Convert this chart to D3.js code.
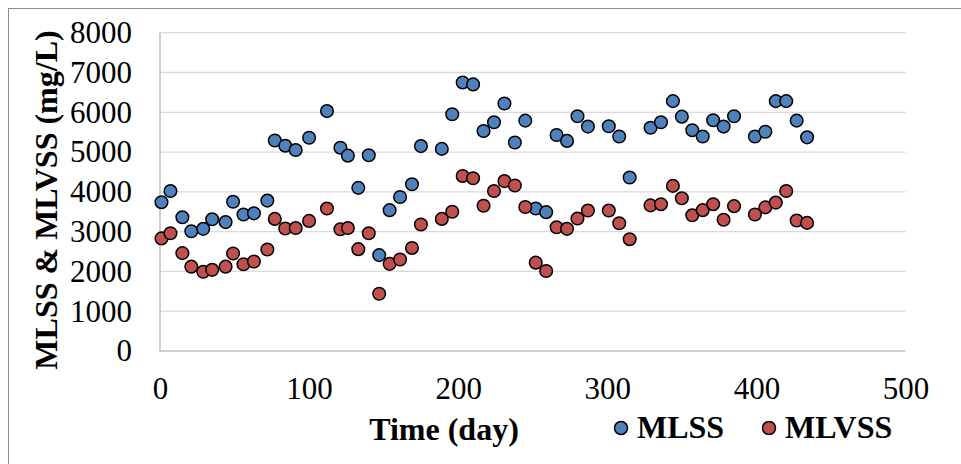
<!DOCTYPE html>
<html>
<head>
<meta charset="utf-8">
<script src="https://cdn.jsdelivr.net/npm/d3@7"></script>
<style>
html,body{margin:0;padding:0;background:#fff;}
svg{display:block;}
</style>
</head>
<body>
<svg id="chart" width="961" height="464"></svg>
<script>
const days = [1,7,15,21,29,35,44,49,56,63,72,77,84,91,100,112,121,126,133,140,147,154,161,169,175,189,196,203,210,217,224,231,238,245,252,259,266,273,280,287,301,308,315,329,336,344,350,357,364,371,378,385,399,406,413,420,427,434];
const mlss = [3740,4020,3360,3010,3070,3310,3240,3750,3430,3460,3780,5290,5160,5050,5360,6030,5110,4910,4100,4920,2410,3540,3870,4190,5150,5080,5950,6750,6700,5530,5750,6220,5240,5790,3580,3490,5430,5280,5900,5640,5650,5390,4360,5610,5750,6280,5890,5550,5390,5800,5640,5900,5390,5510,6280,6280,5790,5370];
const mlvss = [2830,2960,2460,2120,1990,2040,2120,2450,2180,2250,2550,3320,3080,3090,3270,3580,3060,3090,2560,2960,1440,2190,2300,2590,3180,3320,3500,4400,4340,3650,4020,4270,4160,3620,2220,2010,3110,3070,3330,3530,3530,3210,2810,3660,3690,4150,3840,3410,3540,3690,3300,3640,3430,3610,3730,4020,3280,3220];
const xTicks = [0,100,200,300,400,500];
const yTicks = [0,1000,2000,3000,4000,5000,6000,7000,8000];
const seriesNames = ["MLSS","MLVSS"];
const seriesColors = ["#4F81BD","#C0504D"];

const svg = d3.select("#chart");
const font = "'Liberation Serif','Times New Roman',serif";

// outer border
svg.append("rect").attr("x",8.5).attr("y",8.5).attr("width",980).attr("height",480)
  .attr("fill","none").attr("stroke","#8c8c8c").attr("stroke-width",1);

const x = d3.scaleLinear().domain([0,500]).range([160,905.5]);
const y = d3.scaleLinear().domain([0,8000]).range([351,32.7]);

// gridlines
svg.append("g").selectAll("line").data(yTicks.filter(d=>d>0)).join("line")
  .attr("x1",x(0)).attr("x2",x(500))
  .attr("y1",d=>y(d)).attr("y2",d=>y(d))
  .attr("stroke","#d9d9d9").attr("stroke-width",1.3);

// axes lines
svg.append("line").attr("x1",x(0)).attr("x2",x(0)).attr("y1",y(8000)).attr("y2",y(0))
  .attr("stroke","#bfbfbf").attr("stroke-width",1.5);
svg.append("line").attr("x1",x(0)-0.7).attr("x2",x(500)).attr("y1",y(0)).attr("y2",y(0))
  .attr("stroke","#bfbfbf").attr("stroke-width",1.5);

// y axis tick labels
const yAxis = d3.axisLeft(y).tickValues(yTicks).tickFormat(d3.format("d")).tickSize(0).tickPadding(28);
const gy = svg.append("g").attr("transform",`translate(${x(0)},0)`).call(yAxis);
gy.select(".domain").remove();
gy.selectAll("text").attr("font-family",font).attr("font-size",31).attr("fill","#000");

// x axis tick labels
const xAxis = d3.axisBottom(x).tickValues(xTicks).tickFormat(d3.format("d")).tickSize(0).tickPadding(26);
const gx = svg.append("g").attr("transform",`translate(0,${y(0)})`).call(xAxis);
gx.select(".domain").remove();
gx.selectAll("text").attr("font-family",font).attr("font-size",31).attr("fill","#000");

// axis titles
svg.append("text").attr("x",444).attr("y",440).attr("text-anchor","middle")
  .attr("font-family",font).attr("font-weight","bold").attr("font-size",32).text("Time (day)");
svg.append("text").attr("transform","translate(57,200) rotate(-90)").attr("text-anchor","middle")
  .attr("font-family",font).attr("font-weight","bold").attr("font-size",32).text("MLSS & MLVSS (mg/L)");

// points
const series = [mlss, mlvss];
series.forEach((vals,i)=>{
  svg.append("g").selectAll("circle").data(days.map((d,j)=>[d,vals[j]])).join("circle")
    .attr("cx",d=>x(d[0])).attr("cy",d=>y(d[1])).attr("r",6.3)
    .attr("fill",seriesColors[i]).attr("stroke","#000").attr("stroke-width",1.5);
});

// legend
const legX = [621, 769];
seriesNames.forEach((n,i)=>{
  svg.append("circle").attr("cx",legX[i]).attr("cy",428).attr("r",6.5)
    .attr("fill",seriesColors[i]).attr("stroke","#000").attr("stroke-width",1.5);
  svg.append("text").attr("x",legX[i]+16).attr("y",438)
    .attr("font-family",font).attr("font-weight","bold").attr("font-size",32).text(n);
});
</script>
</body>
</html>
